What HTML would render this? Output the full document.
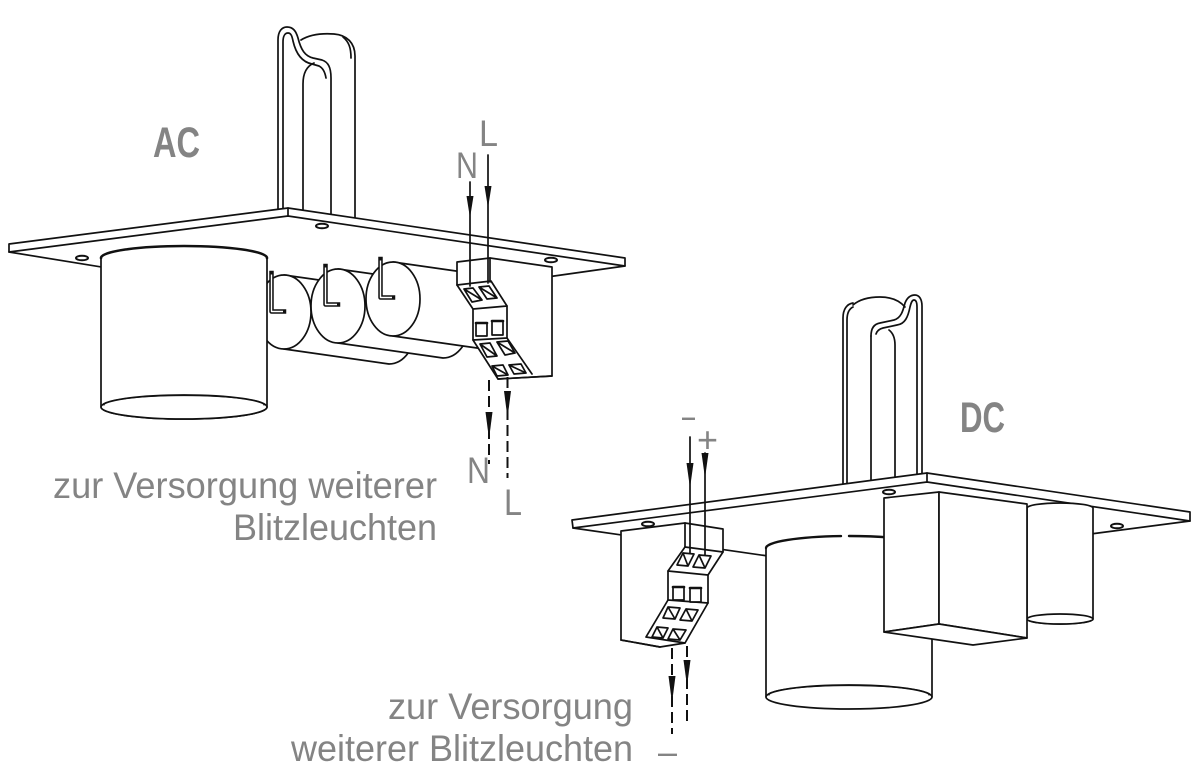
<!DOCTYPE html>
<html><head><meta charset="utf-8"><style>
html,body{margin:0;padding:0;background:#fff;}
svg{display:block;}
text{font-family:"Liberation Sans",sans-serif;fill:#848484;}
</style></head><body>
<svg width="1192" height="782" viewBox="0 0 1192 782" xmlns="http://www.w3.org/2000/svg">
<rect width="1192" height="782" fill="#fff"/>
<g fill="#fff" stroke="#111" stroke-width="1.7" stroke-linejoin="round" stroke-linecap="round">

<!-- ===== AC handle ===== -->
<path d="M355,218 V56 C355,43 347,35 334,34 C320,33 309,35 301,40" fill="none"/>
<path d="M343,37 C349,42 351,48 351,58" fill="none"/>
<path d="M303,210 V84 C303,73 307,66 314,63" fill="none"/>
<path d="M278,209 V40 C278,31 282,27 287,27 C293,27 296,31 298,38 C301,50 305,56 313,58 L322,60 C328,62 331,67 331,78 V214" fill="none"/>
<path d="M283,209 V42 C283,36 285,33 288,33 C291,33 292,36 293,41 C296,54 302,62 312,64 L319,66 C323,68 325,72 326,78" fill="none"/>

<!-- ===== AC plate ===== -->
<path d="M9,244 L288,208 L625,258 L625,266 L288,216 L9,252 Z"/>
<line x1="288" y1="208" x2="288" y2="216"/>
<line x1="9" y1="252" x2="200" y2="283"/>
<line x1="625" y1="266" x2="540" y2="278"/>
<ellipse cx="82" cy="258" rx="6" ry="2.3" stroke-width="2"/>
<ellipse cx="322" cy="226" rx="6" ry="2.3" stroke-width="2"/>
<ellipse cx="551" cy="260" rx="6" ry="2.3" stroke-width="2"/>

<!-- ===== AC capacitors ===== -->
<path d="M284,275 L389,290 A27,37 0 0 1 389,364 L284,349 Z"/>
<ellipse cx="284" cy="312" rx="27" ry="37"/>
<path d="M271.5,273 V311.5 H284" fill="none" stroke-width="4.5" stroke-linecap="square"/>
<path d="M271.5,274.5 V311.5 H283" fill="none" stroke="#fff" stroke-width="1.4" stroke-linecap="butt"/>

<path d="M338,269 L443,284 A27,37 0 0 1 443,358 L338,343 Z"/>
<ellipse cx="338" cy="306" rx="27" ry="37"/>
<path d="M325.5,266 V304.5 H338" fill="none" stroke-width="4.5" stroke-linecap="square"/>
<path d="M325.5,267.5 V304.5 H337" fill="none" stroke="#fff" stroke-width="1.4" stroke-linecap="butt"/>

<path d="M393,262 L498,277 A27,37 0 0 1 498,351 L393,336 Z"/>
<ellipse cx="393" cy="299" rx="27" ry="37"/>
<path d="M380.5,259 V297.5 H393" fill="none" stroke-width="4.5" stroke-linecap="square"/>
<path d="M380.5,260.5 V297.5 H392" fill="none" stroke="#fff" stroke-width="1.4" stroke-linecap="butt"/>

<!-- ===== AC big cylinder ===== -->
<path d="M101,258 A83,12 0 0 1 267,258 V407 A83,12 0 0 1 101,407 Z"/>
<path d="M101,258 A83,12 0 0 1 267,258" fill="none" stroke-width="2.6"/>
<ellipse cx="184" cy="407" rx="83" ry="12"/>
<path d="M104,405 A80,9.5 0 0 1 264,405" fill="none" stroke-width="1.2"/>

<!-- ===== AC terminal box ===== -->
<path d="M457,262 L490,258 L552,267 L552,376 L498,379 L473,340 L473,309 L457,285 Z"/>
<line x1="490" y1="258" x2="490" y2="282"/>
<path d="M457,285 L491,281 L507,306 L473,309" fill="none"/>
<path d="M507,306 V338 L473,340" fill="none"/>
<path d="M507,338 L532,374" fill="none"/>
<path d="M498,379 L552,376" fill="none"/>
<path d="M464,289 L473,288 L482,300 L472,302 Z M464,289 L482,300"/>
<path d="M479,287 L489,286 L497,298 L487,299 Z M479,287 L497,298"/>
<rect x="476" y="323" width="11" height="13"/>
<rect x="492" y="321" width="11" height="14"/>
<line x1="476" y1="323" x2="487" y2="323" stroke-width="2.6"/>
<line x1="492" y1="321" x2="503" y2="321" stroke-width="2.6"/>
<path d="M480,344 L490,343 L497,356 L487,357 Z M480,344 L497,356"/>
<path d="M497,342 L508,341 L515,353 L505,355 Z M497,342 L515,353"/>
<path d="M492,366 L503,365 L508,375 L497,376 Z M492,366 L508,375"/>
<path d="M509,365 L521,364 L526,373 L514,374 Z M509,365 L526,373"/>

<!-- ===== AC arrows ===== -->
<line x1="470" y1="182" x2="470" y2="286"/>
<path d="M466.5,196 L473.5,196 L470,218 Z" fill="#111" stroke="none"/>
<line x1="488" y1="155" x2="488" y2="283"/>
<path d="M484.5,186 L491.5,186 L488,208 Z" fill="#111" stroke="none"/>
<line x1="489" y1="380" x2="489" y2="464" stroke-dasharray="11 5" stroke-linecap="butt" stroke-width="2"/>
<path d="M485.5,412 L492.5,412 L489,439 Z" fill="#111" stroke="none"/>
<line x1="507.5" y1="377" x2="507.5" y2="478" stroke-dasharray="11 5" stroke-linecap="butt" stroke-width="2"/>
<path d="M504,391 L511,391 L507.5,418 Z" fill="#111" stroke="none"/>

<!-- ===== DC handle ===== -->
<path d="M853,305 C860,299 870,297 880,297 C892,297 900,301 905,307" fill="none"/>
<path d="M843,484 V318 C843,309 847,304 853,303" fill="none"/>
<path d="M847,484 V320 C847,313 849,309 853,307" fill="none"/>
<path d="M871,480 V336" fill="none"/>
<path d="M895,477 V345 C895,338 893,333 889,330" fill="none"/>
<path d="M922,474 V306 C922,299 919,295 915,295 C910,295 907,298 905,303 C903,311 901,318 894,320 L880,323 C874,324 871,328 871,336" fill="none"/>
<path d="M917,475 V307 C917,303 916,300 914,300 C912,300 911,303 910,307 C908,317 905,324 897,325 L883,328 C879,329 877,331 876,334" fill="none"/>

<!-- ===== DC plate ===== -->
<path d="M572,520 L927,473 L1190,512 L1190,521 L927,482 L573,528 Z"/>
<line x1="927" y1="473" x2="927" y2="482"/>
<line x1="573" y1="528" x2="900" y2="575"/>
<line x1="1190" y1="521" x2="1060" y2="538"/>
<ellipse cx="648" cy="524" rx="6" ry="2.3" stroke-width="2"/>
<ellipse cx="889" cy="492" rx="6" ry="2.3" stroke-width="2"/>
<ellipse cx="1117" cy="526" rx="6" ry="2.3" stroke-width="2"/>

<!-- ===== DC small cylinder ===== -->
<path d="M1027,508 A33,5 0 0 1 1093,508 V619 A33,5 0 0 1 1027,619 Z"/>
<ellipse cx="1060" cy="619" rx="33" ry="5"/>

<!-- ===== DC big cylinder ===== -->
<path d="M766,548 A83,12 0 0 1 932,548 V697 A83,12 0 0 1 766,697 Z" stroke="none"/>
<line x1="766" y1="548" x2="766" y2="697"/>
<line x1="932" y1="548" x2="932" y2="697"/>
<path d="M766,548 A83,12 0 0 1 841,536.1" fill="none" stroke-width="2.4"/>
<path d="M849,536 A83,12 0 0 1 932,548" fill="none" stroke-width="2.4"/>
<ellipse cx="849" cy="697" rx="83" ry="12"/>
<path d="M769,695 A80,9.5 0 0 1 929,695" fill="none" stroke-width="1.2"/>

<!-- ===== DC box ===== -->
<path d="M884,498 L939,492 L939,624 L884,632 Z"/>
<path d="M939,492 L1027,504 L1027,638 L939,624 Z"/>
<path d="M884,632 L939,624 L1027,638 L973,645 Z"/>

<!-- ===== DC terminal box ===== -->
<path d="M621,531 L685,523 L723,529 L723,552 L708,575 L708,603 L685,643 L660,647 L621,640 Z"/>
<line x1="685" y1="523" x2="685" y2="547"/>
<path d="M685,547 L723,552" fill="none"/>
<path d="M685,547 L668,571 L708,575" fill="none"/>
<path d="M668,571 V600 L708,603" fill="none"/>
<path d="M668,600 L646,637 L685,643" fill="none"/>
<path d="M621,640 L660,647" fill="none"/>
<path d="M683,553 L694,554 L688,566 L677,565 Z M683,553 L688,566"/>
<path d="M699,555 L711,556 L705,568 L693,567 Z M699,555 L705,568"/>
<rect x="673" y="587" width="11" height="13"/>
<rect x="690" y="588" width="11" height="14"/>
<line x1="673" y1="587" x2="684" y2="587" stroke-width="2.6"/>
<line x1="690" y1="588" x2="701" y2="588" stroke-width="2.6"/>
<path d="M668,607 L680,608 L675,619 L663,618 Z M668,607 L675,619"/>
<path d="M686,609 L698,610 L692,621 L680,620 Z M686,609 L692,621"/>
<path d="M657,627 L668,628 L663,638 L652,637 Z M657,627 L663,638"/>
<path d="M673,629 L686,630 L680,640 L668,639 Z M673,629 L680,640"/>

<!-- ===== DC arrows ===== -->
<line x1="690" y1="437" x2="690" y2="553"/>
<path d="M686.5,463 L693.5,463 L690,488 Z" fill="#111" stroke="none"/>
<line x1="705" y1="453" x2="705" y2="555"/>
<path d="M701.5,453 L708.5,453 L705,478 Z" fill="#111" stroke="none"/>
<line x1="672" y1="648" x2="672" y2="734" stroke-dasharray="11 5" stroke-linecap="butt" stroke-width="2"/>
<path d="M668.5,676 L675.5,676 L672,703 Z" fill="#111" stroke="none"/>
<line x1="687" y1="646" x2="687" y2="724" stroke-dasharray="11 5" stroke-linecap="butt" stroke-width="2"/>
<path d="M683.5,660 L690.5,660 L687,686 Z" fill="#111" stroke="none"/>
</g>

<!-- ===== Text ===== -->
<text x="153" y="157" font-size="43" font-weight="bold" fill="#7e7e7e" textLength="47" lengthAdjust="spacingAndGlyphs">AC</text>
<text x="960" y="432" font-size="43" font-weight="bold" fill="#7e7e7e" textLength="45" lengthAdjust="spacingAndGlyphs">DC</text>

<text x="456" y="178" font-size="37" textLength="22" lengthAdjust="spacingAndGlyphs">N</text>
<text x="479" y="146" font-size="37" textLength="19" lengthAdjust="spacingAndGlyphs">L</text>
<text x="467" y="483" font-size="37" textLength="23" lengthAdjust="spacingAndGlyphs">N</text>
<text x="504" y="515" font-size="37" textLength="18" lengthAdjust="spacingAndGlyphs">L</text>

<text x="682" y="428" font-size="36" textLength="13" lengthAdjust="spacingAndGlyphs">–</text>
<text x="697" y="452" font-size="36" textLength="21" lengthAdjust="spacingAndGlyphs">+</text>
<text x="658" y="764" font-size="36" textLength="19" lengthAdjust="spacingAndGlyphs">–</text>

<text x="53" y="498" font-size="37" textLength="384" lengthAdjust="spacingAndGlyphs">zur Versorgung weiterer</text>
<text x="233" y="540" font-size="37" textLength="204" lengthAdjust="spacingAndGlyphs">Blitzleuchten</text>
<text x="388" y="719" font-size="37" textLength="245" lengthAdjust="spacingAndGlyphs">zur Versorgung</text>
<text x="291" y="761" font-size="37" textLength="342" lengthAdjust="spacingAndGlyphs">weiterer Blitzleuchten</text>
</svg>
</body></html>
